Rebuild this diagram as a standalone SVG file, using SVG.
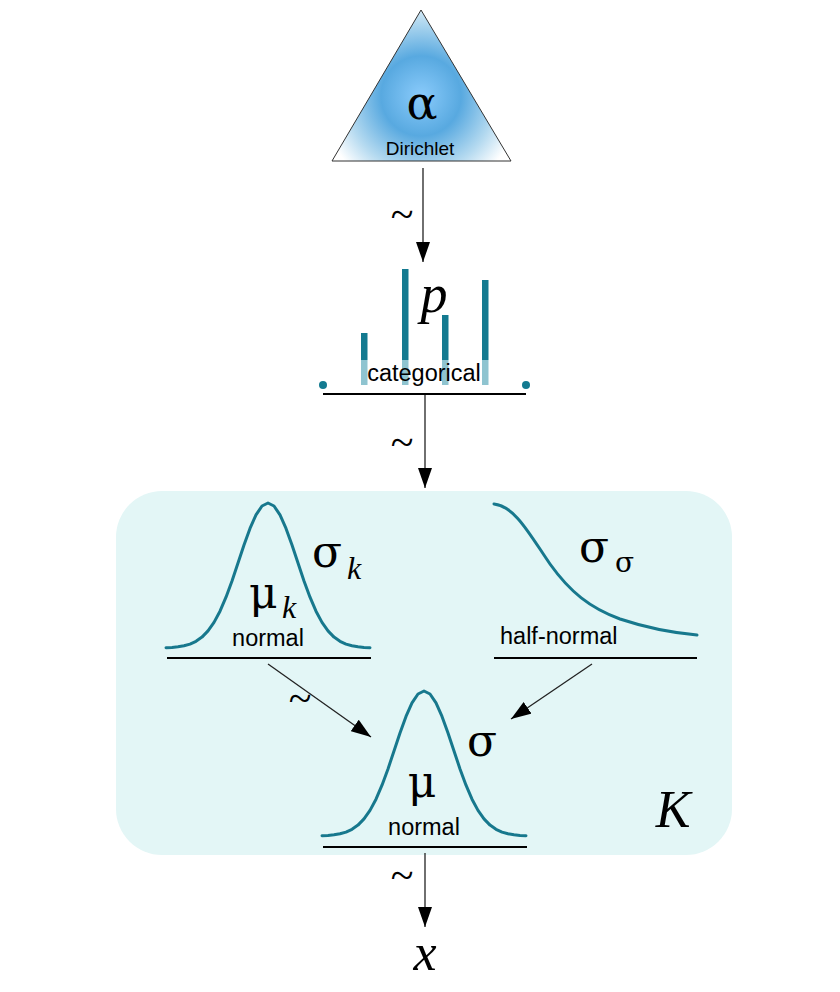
<svg xmlns="http://www.w3.org/2000/svg" width="840" height="992" viewBox="0 0 840 992">
<style>
.serif{font-family:"Liberation Serif","Times New Roman",serif;fill:#000}
.greek{font-family:"DejaVu Serif","Liberation Serif",serif;fill:#000}
.it{font-style:italic}
.sans{font-family:"Liberation Sans",Arial,sans-serif;fill:#000}
.curve{fill:none;stroke:#17788d;stroke-width:3;stroke-linejoin:round;stroke-linecap:round}
.base{stroke:#000;stroke-width:2}
.conn{stroke:#222;stroke-width:1.3;fill:none}
.dark{fill:#137a90}
.light{fill:#8fc4d0}
</style>
<defs>
<radialGradient id="dirGrad" cx="421" cy="96" r="100" gradientUnits="userSpaceOnUse">
<stop offset="0" stop-color="#8acbfb"/>
<stop offset="0.4" stop-color="#58a9e0"/>
<stop offset="0.75" stop-color="#b5daf0"/>
<stop offset="1" stop-color="#ffffff"/>
</radialGradient>
<marker id="arr" markerUnits="userSpaceOnUse" markerWidth="20" markerHeight="14" refX="20" refY="7" orient="auto">
<path d="M0,0 L20,7 L0,14 z" fill="#000"/>
</marker>
<path id="gauss" d="M-102,-0.3 L-96,-0.6 L-90,-1.2 L-84,-2.2 L-78,-3.9 L-72,-6.7 L-66,-10.9 L-60,-17.1 L-54,-25.6 L-48,-36.8 L-42,-50.8 L-36,-67.1 L-30,-85 L-24,-103 L-18,-119.6 L-12,-133.1 L-6,-142 L0,-145 L6,-142 L12,-133.1 L18,-119.6 L24,-103 L30,-85 L36,-67.1 L42,-50.8 L48,-36.8 L54,-25.6 L60,-17.1 L66,-10.9 L72,-6.7 L78,-3.9 L84,-2.2 L90,-1.2 L96,-0.6 L102,-0.3"/>
</defs>
<g id="plate">
<rect x="116" y="491" width="616" height="364" rx="46" ry="46" fill="#e3f6f6"/>
<text class="serif it" x="673" y="827" font-size="52" text-anchor="middle">K</text>
</g>
<g id="connectors">
<line class="conn" x1="423" y1="168" x2="423" y2="262" marker-end="url(#arr)"/>
<text class="serif" x="402" y="228" font-size="42" text-anchor="middle">~</text>
<line class="conn" x1="425" y1="394" x2="425" y2="488" marker-end="url(#arr)"/>
<text class="serif" x="402" y="456" font-size="42" text-anchor="middle">~</text>
<line class="conn" x1="268" y1="664" x2="371" y2="737" marker-end="url(#arr)"/>
<text class="serif" x="300" y="712" font-size="42" text-anchor="middle">~</text>
<line class="conn" x1="592" y1="664" x2="511" y2="719" marker-end="url(#arr)"/>
<line class="conn" x1="425" y1="853" x2="425" y2="927" marker-end="url(#arr)"/>
<text class="serif" x="402" y="889" font-size="42" text-anchor="middle">~</text>
</g>
<g id="alpha">
<polygon points="421,10 332,161 511,161" fill="url(#dirGrad)" stroke="#333" stroke-width="1"/>
<text class="greek" x="422" y="119" font-size="46" text-anchor="middle">α</text>
<text class="sans" x="420" y="155" font-size="19" text-anchor="middle">Dirichlet</text>
</g>
<g id="p">
<rect class="dark" x="361" y="333" width="6.5" height="27"/>
<rect class="light" x="361" y="360" width="6.5" height="25"/>
<rect class="dark" x="402" y="269" width="6.5" height="91"/>
<rect class="light" x="402" y="360" width="6.5" height="25"/>
<rect class="dark" x="442" y="315" width="6.5" height="45"/>
<rect class="light" x="442" y="360" width="6.5" height="25"/>
<rect class="dark" x="482" y="280" width="6.5" height="80"/>
<rect class="light" x="482" y="360" width="6.5" height="25"/>
<circle class="dark" cx="323" cy="385" r="4"/>
<circle class="dark" cx="526" cy="385" r="4"/>
<line class="base" x1="323" y1="394" x2="526" y2="394"/>
<text class="serif it" x="434" y="312" font-size="54" text-anchor="middle">p</text>
<text class="sans" x="424" y="381" font-size="23.5" text-anchor="middle">categorical</text>
</g>
<g id="mu_k">
<use href="#gauss" class="curve" transform="translate(268,648)"/>
<line class="base" x1="167" y1="658" x2="371" y2="658"/>
<text class="greek" x="249" y="608" font-size="44">μ</text>
<text class="serif it" x="282" y="618" font-size="32">k</text>
<text class="greek" x="312" y="567" font-size="44">σ</text>
<text class="serif it" x="347" y="579" font-size="32">k</text>
<text class="sans" x="268" y="645.7" font-size="23.5" text-anchor="middle">normal</text>
</g>
<g id="sigma_sigma">
<path class="curve" d="M494,504 C515,506 530,535 550,564 C570,592 590,608 620,619 C650,629 675,633 697,635"/>
<line class="base" x1="494" y1="658" x2="697" y2="658"/>
<text class="greek" x="579" y="562" font-size="44">σ</text>
<text class="greek" x="615" y="572" font-size="28">σ</text>
<text class="sans" x="500" y="644" font-size="23.5">half-normal</text>
</g>
<g id="mu">
<use href="#gauss" class="curve" transform="translate(424,836)"/>
<line class="base" x1="323" y1="847" x2="527" y2="847"/>
<text class="greek" x="422" y="797" font-size="44" text-anchor="middle">μ</text>
<text class="greek" x="467" y="756" font-size="44">σ</text>
<text class="sans" x="424" y="835" font-size="23.5" text-anchor="middle">normal</text>
</g>
<g id="x">
<text class="serif it" x="425" y="970" font-size="52" text-anchor="middle">x</text>
</g>
</svg>
